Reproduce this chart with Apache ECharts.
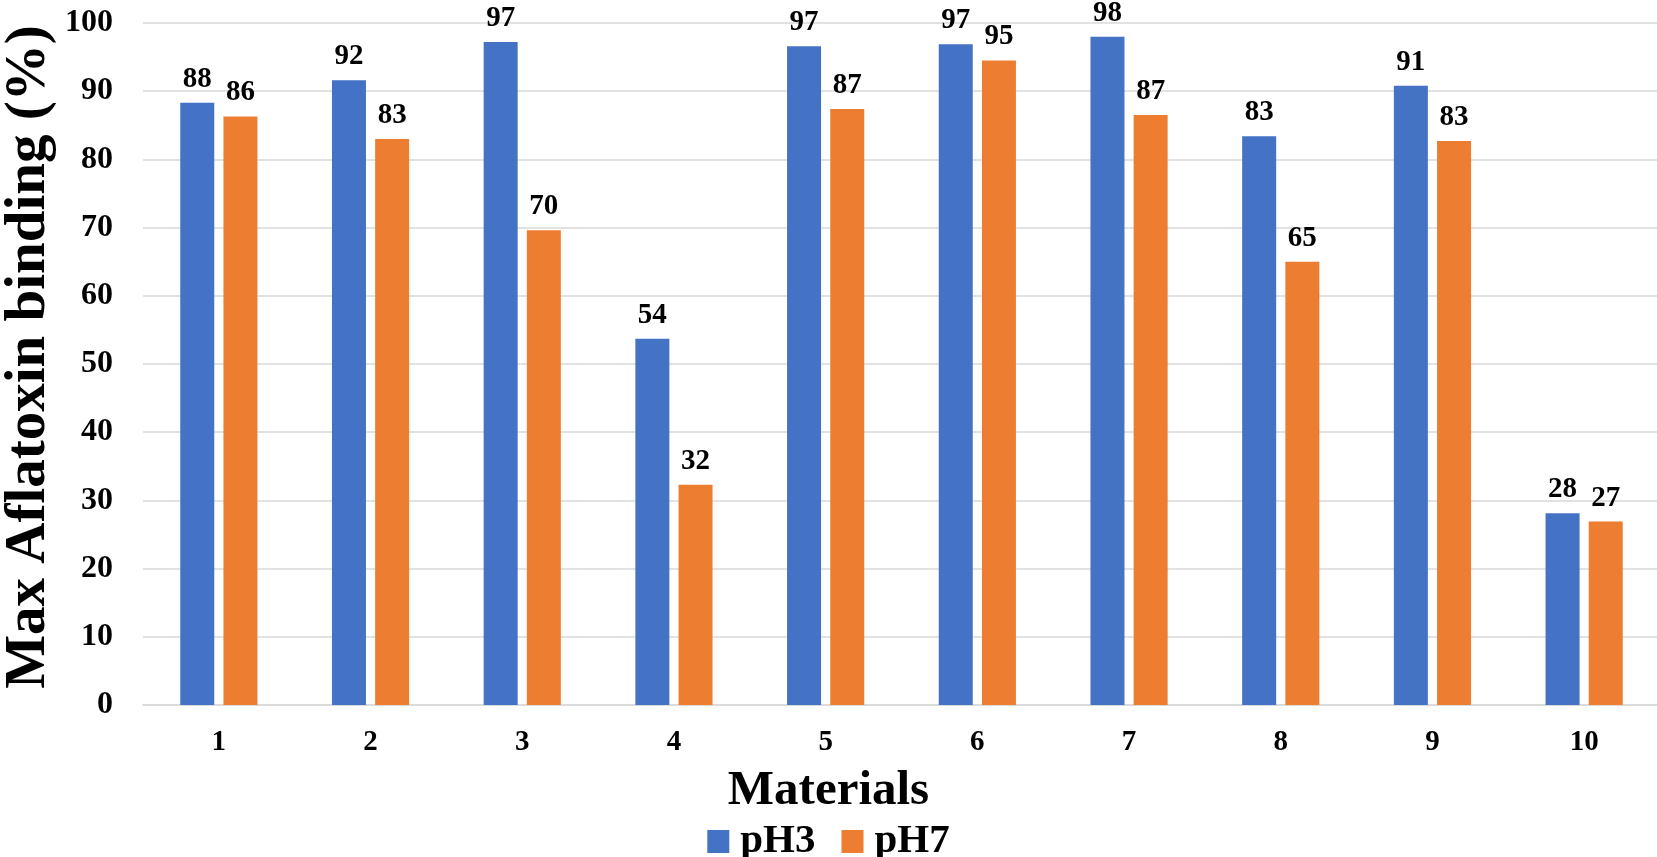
<!DOCTYPE html>
<html>
<head>
<meta charset="utf-8">
<script src="https://cdn.jsdelivr.net/npm/echarts@6/dist/echarts.min.js"></script>
<style>
  html, body { margin: 0; padding: 0; background: #fff; }
  #chart { width: 1657px; height: 857px; }
</style>
</head>
<body>
<div id="chart"></div>
<script>
// Materials tested and their maximum aflatoxin binding (%) at two pH values
const materials = ['1', '2', '3', '4', '5', '6', '7', '8', '9', '10'];
const pH3 = [88.3, 91.6, 97.2, 53.7, 96.6, 96.9, 98.0, 83.4, 90.8, 28.1];
const pH7 = [86.3, 83.0, 69.6, 32.3, 87.4, 94.5, 86.5, 65.0, 82.7, 26.9];
const yTicks = { min: 0, max: 100, step: 10 };

const FONT = '"Liberation Serif", "Times New Roman", serif';

const labelStyle = {
  show: true,
  position: 'top',
  distance: 9,
  fontFamily: FONT,
  fontWeight: 'bold',
  fontSize: 29,
  color: '#000',
  formatter: p => Math.round(p.value).toString()
};

const chart = echarts.init(document.getElementById('chart'));
chart.setOption({
  backgroundColor: '#fff',
  animation: false,
  title: {
    text: 'Materials',
    left: 'center',
    top: 762,
    textStyle: { fontFamily: FONT, fontWeight: 'bold', fontSize: 49, color: '#000' }
  },
  legend: {
    data: ['pH3', 'pH7'],
    left: 'center',
    top: 816,
    icon: 'rect',
    itemWidth: 22,
    itemHeight: 23,
    itemGap: 26,
    textStyle: {
      fontFamily: FONT, fontWeight: 'bold', fontSize: 41, color: '#000',
      padding: [0, 0, 0, 6]
    }
  },
  grid: {
    left: 143, right: -3, top: 23, bottom: 152,
    containLabel: false, outerBoundsMode: 'none'
  },
  xAxis: {
    type: 'category',
    data: materials,
    axisTick: { show: false },
    axisLine: { lineStyle: { color: '#d9d9d9', width: 1.5 } },
    axisLabel: {
      fontFamily: FONT, fontWeight: 'bold', fontSize: 29, color: '#000', margin: 23
    }
  },
  yAxis: {
    type: 'value',
    min: yTicks.min,
    max: yTicks.max,
    interval: yTicks.step,
    name: 'Max Aflatoxin binding (%)',
    nameLocation: 'middle',
    nameGap: 85,
    nameMoveOverlap: false,
    nameTextStyle: {
      fontFamily: FONT, fontWeight: 'bold', fontSize: 57, color: '#000',
      padding: [0, 0, 0, 14]
    },
    axisLine: { show: false },
    axisTick: { show: false },
    splitLine: { lineStyle: { color: '#d9d9d9', width: 1.5 } },
    axisLabel: {
      fontFamily: FONT, fontWeight: 'bold', fontSize: 32, color: '#000', margin: 30
    }
  },
  series: [
    {
      name: 'pH3', type: 'bar', data: pH3, barWidth: 34, barGap: '27%',
      itemStyle: { color: '#4472C4' }, label: labelStyle
    },
    {
      name: 'pH7', type: 'bar', data: pH7, barWidth: 34, barGap: '27%',
      itemStyle: { color: '#ED7D31' }, label: labelStyle
    }
  ]
});
</script>
</body>
</html>
